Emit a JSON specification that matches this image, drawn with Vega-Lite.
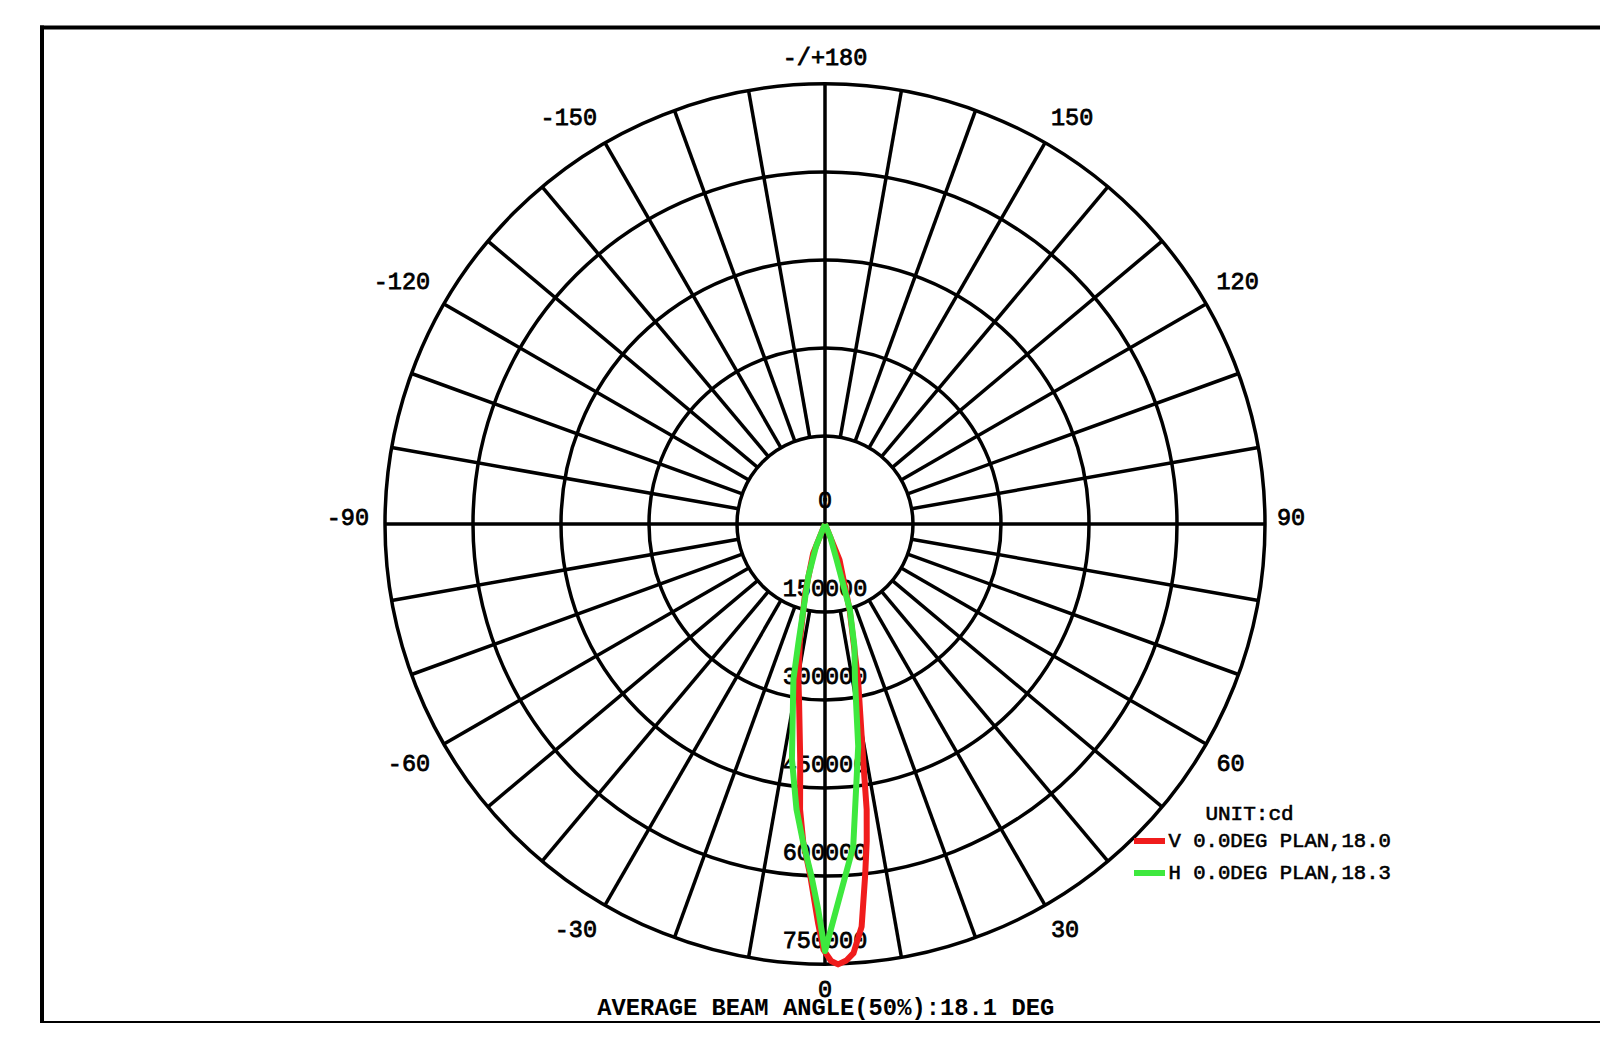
{
  "$schema": "https://vega.github.io/schema/vega-lite/v6.json",
  "width": 1558.5,
  "height": 995.5,
  "autosize": {"type": "none"},
  "padding": {"left": 41.5, "top": 27, "right": 0, "bottom": 0},
  "background": "white",
  "config": {
    "view": {"stroke": null},
    "text": {"font": "Liberation Mono", "fontSize": 23.5, "color": "black", "stroke": "black", "strokeWidth": 0.8}
  },
  "title": {
    "text": "AVERAGE BEAM ANGLE(50%):18.1 DEG",
    "orient": "bottom",
    "anchor": "middle",
    "font": "Liberation Mono",
    "fontSize": 23.8,
    "fontWeight": "bold",
    "color": "black",
    "offset": -27,
    "dx": 5
  },
  "datasets": {
    "rings": [{"r": 150000}, {"r": 300000}, {"r": 450000}, {"r": 600000}, {"r": 750000}],
    "spokes": [
      {"angle": -170, "r0": 150000, "r1": 750000}, {"angle": -160, "r0": 150000, "r1": 750000},
      {"angle": -150, "r0": 150000, "r1": 750000}, {"angle": -140, "r0": 150000, "r1": 750000},
      {"angle": -130, "r0": 150000, "r1": 750000}, {"angle": -120, "r0": 150000, "r1": 750000},
      {"angle": -110, "r0": 150000, "r1": 750000}, {"angle": -100, "r0": 150000, "r1": 750000},
      {"angle": -90, "r0": 0, "r1": 750000}, {"angle": -80, "r0": 150000, "r1": 750000},
      {"angle": -70, "r0": 150000, "r1": 750000}, {"angle": -60, "r0": 150000, "r1": 750000},
      {"angle": -50, "r0": 150000, "r1": 750000}, {"angle": -40, "r0": 150000, "r1": 750000},
      {"angle": -30, "r0": 150000, "r1": 750000}, {"angle": -20, "r0": 150000, "r1": 750000},
      {"angle": -10, "r0": 150000, "r1": 750000}, {"angle": 0, "r0": 0, "r1": 750000},
      {"angle": 10, "r0": 150000, "r1": 750000}, {"angle": 20, "r0": 150000, "r1": 750000},
      {"angle": 30, "r0": 150000, "r1": 750000}, {"angle": 40, "r0": 150000, "r1": 750000},
      {"angle": 50, "r0": 150000, "r1": 750000}, {"angle": 60, "r0": 150000, "r1": 750000},
      {"angle": 70, "r0": 150000, "r1": 750000}, {"angle": 80, "r0": 150000, "r1": 750000},
      {"angle": 90, "r0": 0, "r1": 750000}, {"angle": 100, "r0": 150000, "r1": 750000},
      {"angle": 110, "r0": 150000, "r1": 750000}, {"angle": 120, "r0": 150000, "r1": 750000},
      {"angle": 130, "r0": 150000, "r1": 750000}, {"angle": 140, "r0": 150000, "r1": 750000},
      {"angle": 150, "r0": 150000, "r1": 750000}, {"angle": 160, "r0": 150000, "r1": 750000},
      {"angle": 170, "r0": 150000, "r1": 750000}, {"angle": 180, "r0": 0, "r1": 750000}
    ],
    "angleLabels": [
      {"angle": 180, "label": "-/+180"}, {"angle": 150, "label": "150"}, {"angle": 120, "label": "120"},
      {"angle": 90, "label": "90"}, {"angle": 60, "label": "60"}, {"angle": 30, "label": "30"},
      {"angle": 0, "label": "0"}, {"angle": -30, "label": "-30"}, {"angle": -60, "label": "-60"},
      {"angle": -90, "label": "-90"}, {"angle": -120, "label": "-120"}, {"angle": -150, "label": "-150"}
    ],
    "radialLabels": [
      {"r": 0, "label": "0"}, {"r": 150000, "label": "150000"}, {"r": 300000, "label": "300000"},
      {"r": 450000, "label": "450000"}, {"r": 600000, "label": "600000"}, {"r": 750000, "label": "750000"}
    ],
    "curves": [
      {"plane": "V 0.0DEG PLAN,18.0", "angle": -30, "cd": 0},
      {"plane": "V 0.0DEG PLAN,18.0", "angle": -22, "cd": 54000},
      {"plane": "V 0.0DEG PLAN,18.0", "angle": -16, "cd": 123000},
      {"plane": "V 0.0DEG PLAN,18.0", "angle": -12, "cd": 207000},
      {"plane": "V 0.0DEG PLAN,18.0", "angle": -9.7, "cd": 269000},
      {"plane": "V 0.0DEG PLAN,18.0", "angle": -8.4, "cd": 303000},
      {"plane": "V 0.0DEG PLAN,18.0", "angle": -6, "cd": 404000},
      {"plane": "V 0.0DEG PLAN,18.0", "angle": -5, "cd": 488000},
      {"plane": "V 0.0DEG PLAN,18.0", "angle": -3.9, "cd": 544000},
      {"plane": "V 0.0DEG PLAN,18.0", "angle": -2.4, "cd": 600000},
      {"plane": "V 0.0DEG PLAN,18.0", "angle": -1, "cd": 680000},
      {"plane": "V 0.0DEG PLAN,18.0", "angle": -0.2, "cd": 726000},
      {"plane": "V 0.0DEG PLAN,18.0", "angle": 0.8, "cd": 745000},
      {"plane": "V 0.0DEG PLAN,18.0", "angle": 1.7, "cd": 751000},
      {"plane": "V 0.0DEG PLAN,18.0", "angle": 2.8, "cd": 745000},
      {"plane": "V 0.0DEG PLAN,18.0", "angle": 3.8, "cd": 733000},
      {"plane": "V 0.0DEG PLAN,18.0", "angle": 5.2, "cd": 689000},
      {"plane": "V 0.0DEG PLAN,18.0", "angle": 6.5, "cd": 604000},
      {"plane": "V 0.0DEG PLAN,18.0", "angle": 7.5, "cd": 545000},
      {"plane": "V 0.0DEG PLAN,18.0", "angle": 8.3, "cd": 492000},
      {"plane": "V 0.0DEG PLAN,18.0", "angle": 9.2, "cd": 407000},
      {"plane": "V 0.0DEG PLAN,18.0", "angle": 10.5, "cd": 330000},
      {"plane": "V 0.0DEG PLAN,18.0", "angle": 12, "cd": 271000},
      {"plane": "V 0.0DEG PLAN,18.0", "angle": 16, "cd": 152000},
      {"plane": "V 0.0DEG PLAN,18.0", "angle": 22, "cd": 66000},
      {"plane": "V 0.0DEG PLAN,18.0", "angle": 30, "cd": 0},
      {"plane": "H 0.0DEG PLAN,18.3", "angle": -30, "cd": 0},
      {"plane": "H 0.0DEG PLAN,18.3", "angle": -22, "cd": 40000},
      {"plane": "H 0.0DEG PLAN,18.3", "angle": -17.6, "cd": 94000},
      {"plane": "H 0.0DEG PLAN,18.3", "angle": -12.6, "cd": 208000},
      {"plane": "H 0.0DEG PLAN,18.3", "angle": -11.5, "cd": 270000},
      {"plane": "H 0.0DEG PLAN,18.3", "angle": -8, "cd": 405000},
      {"plane": "H 0.0DEG PLAN,18.3", "angle": -5.7, "cd": 489000},
      {"plane": "H 0.0DEG PLAN,18.3", "angle": -3.9, "cd": 545000},
      {"plane": "H 0.0DEG PLAN,18.3", "angle": -2.2, "cd": 601000},
      {"plane": "H 0.0DEG PLAN,18.3", "angle": -1, "cd": 658000},
      {"plane": "H 0.0DEG PLAN,18.3", "angle": 0, "cd": 728000},
      {"plane": "H 0.0DEG PLAN,18.3", "angle": 5, "cd": 552000},
      {"plane": "H 0.0DEG PLAN,18.3", "angle": 8.5, "cd": 383000},
      {"plane": "H 0.0DEG PLAN,18.3", "angle": 10.9, "cd": 270000},
      {"plane": "H 0.0DEG PLAN,18.3", "angle": 13.5, "cd": 215000},
      {"plane": "H 0.0DEG PLAN,18.3", "angle": 16.2, "cd": 152000},
      {"plane": "H 0.0DEG PLAN,18.3", "angle": 18, "cd": 64000},
      {"plane": "H 0.0DEG PLAN,18.3", "angle": 22, "cd": 25000},
      {"plane": "H 0.0DEG PLAN,18.3", "angle": 30, "cd": 0}
    ]
  },
  "resolve": {"axis": {"x": "independent", "y": "independent"}},
  "layer": [
    {
      "data": {"name": "spokes"},
      "transform": [
        {"calculate": "datum.r0 * sin(datum.angle * PI / 180)", "as": "x0"},
        {"calculate": "-datum.r0 * cos(datum.angle * PI / 180)", "as": "y0"},
        {"calculate": "datum.r1 * sin(datum.angle * PI / 180)", "as": "x1"},
        {"calculate": "-datum.r1 * cos(datum.angle * PI / 180)", "as": "y1"}
      ],
      "mark": {"type": "rule", "color": "black", "strokeWidth": 3.5},
      "encoding": {
        "x": {"field": "x0", "type": "quantitative",
              "scale": {"domain": [-1335511, 1321023], "nice": false, "zero": false},
              "axis": {"orient": "bottom", "domain": true, "domainColor": "black", "domainWidth": 4, "domainCap": "square", "labels": false, "ticks": false, "grid": false, "title": null}},
        "y": {"field": "y0", "type": "quantitative",
              "scale": {"domain": [-849716, 847159], "nice": false, "zero": false},
              "axis": {"orient": "left", "domain": true, "domainColor": "black", "domainWidth": 4, "domainCap": "square", "labels": false, "ticks": false, "grid": false, "title": null}},
        "x2": {"field": "x1"},
        "y2": {"field": "y1"}
      }
    },
    {
      "data": {"name": "rings"},
      "mark": {"type": "point", "shape": "circle", "filled": false, "color": "black", "strokeWidth": 3.5, "opacity": 1},
      "encoding": {
        "x": {"datum": 0, "type": "quantitative",
              "axis": {"orient": "top", "domain": true, "domainColor": "black", "domainWidth": 4, "domainCap": "square", "labels": false, "ticks": false, "grid": false, "title": null}},
        "y": {"datum": 0, "type": "quantitative", "axis": null},
        "size": {"field": "r", "type": "quantitative",
                 "scale": {"type": "pow", "exponent": 2, "domain": [0, 750000], "range": [0, 774400]},
                 "legend": null}
      }
    },
    {
      "data": {"name": "angleLabels"},
      "transform": [
        {"calculate": "sin(datum.angle * PI / 180)", "as": "s"},
        {"calculate": "cos(datum.angle * PI / 180)", "as": "c"},
        {"calculate": "abs(datum.s) < 0.01 ? 0 : (datum.s > 0 ? 1 : -1)", "as": "side"},
        {"calculate": "((datum.s > 0 ? 452 : 456) * datum.s + datum.side * length(datum.label) * 7.05) * 1704.545", "as": "lx"},
        {"calculate": "-(466 * datum.c + 25.3 * datum.c * pow(1 - datum.c * datum.c, 1.6) - 6 * pow(1 - datum.c * datum.c, 8)) * 1704.545", "as": "ly"}
      ],
      "mark": {"type": "text", "align": "center", "baseline": "middle"},
      "encoding": {
        "x": {"field": "lx", "type": "quantitative", "axis": null},
        "y": {"field": "ly", "type": "quantitative", "axis": null},
        "text": {"field": "label"}
      }
    },
    {
      "data": {"name": "radialLabels"},
      "transform": [{"calculate": "-datum.r", "as": "ry"}],
      "mark": {"type": "text", "align": "center", "baseline": "middle", "dy": -23},
      "encoding": {
        "x": {"datum": 0, "type": "quantitative", "axis": null},
        "y": {"field": "ry", "type": "quantitative", "axis": null},
        "text": {"field": "label"}
      }
    },
    {
      "data": {"name": "curves"},
      "transform": [
        {"filter": "datum.plane == 'V 0.0DEG PLAN,18.0'"},
        {"calculate": "datum.cd * sin(datum.angle * PI / 180)", "as": "cx"},
        {"calculate": "-datum.cd * cos(datum.angle * PI / 180)", "as": "cy"}
      ],
      "mark": {"type": "line", "strokeWidth": 6, "strokeJoin": "round"},
      "encoding": {
        "x": {"field": "cx", "type": "quantitative", "axis": null},
        "y": {"field": "cy", "type": "quantitative", "axis": null},
        "order": {"field": "angle", "type": "quantitative"},
        "color": {"field": "plane", "type": "nominal",
                  "scale": {"domain": ["V 0.0DEG PLAN,18.0", "H 0.0DEG PLAN,18.3"], "range": ["#f01c1c", "#3ee83e"]},
                  "legend": {"title": "UNIT:cd", "orient": "none", "legendX": 1095, "legendY": 776,
                             "symbolType": "M-1.55,0H1.55", "symbolStrokeWidth": 6, "symbolSize": 400,
                             "labelFont": "Liberation Mono", "labelFontSize": 20.6, "labelColor": "black", "labelLimit": 0, "labelOffset": 6,
                             "titleFont": "Liberation Mono", "titleFontSize": 21, "titleFontWeight": "normal", "titleColor": "black",
                             "titleAnchor": "middle", "titlePadding": 4, "padding": 0, "rowPadding": 7,
                             "encode": {
                               "title": {"update": {"dx": {"value": -14}, "stroke": {"value": "black"}, "strokeWidth": {"value": 0.6}}},
                               "labels": {"update": {"stroke": {"value": "black"}, "strokeWidth": {"value": 0.6}}}
                             }}}
      }
    },
    {
      "data": {"name": "curves"},
      "transform": [
        {"filter": "datum.plane == 'H 0.0DEG PLAN,18.3'"},
        {"calculate": "datum.cd * sin(datum.angle * PI / 180)", "as": "cx"},
        {"calculate": "-datum.cd * cos(datum.angle * PI / 180)", "as": "cy"}
      ],
      "mark": {"type": "line", "strokeWidth": 6, "strokeJoin": "round"},
      "encoding": {
        "x": {"field": "cx", "type": "quantitative", "axis": null},
        "y": {"field": "cy", "type": "quantitative", "axis": null},
        "order": {"field": "angle", "type": "quantitative"},
        "color": {"field": "plane", "type": "nominal"}
      }
    }
  ]
}
